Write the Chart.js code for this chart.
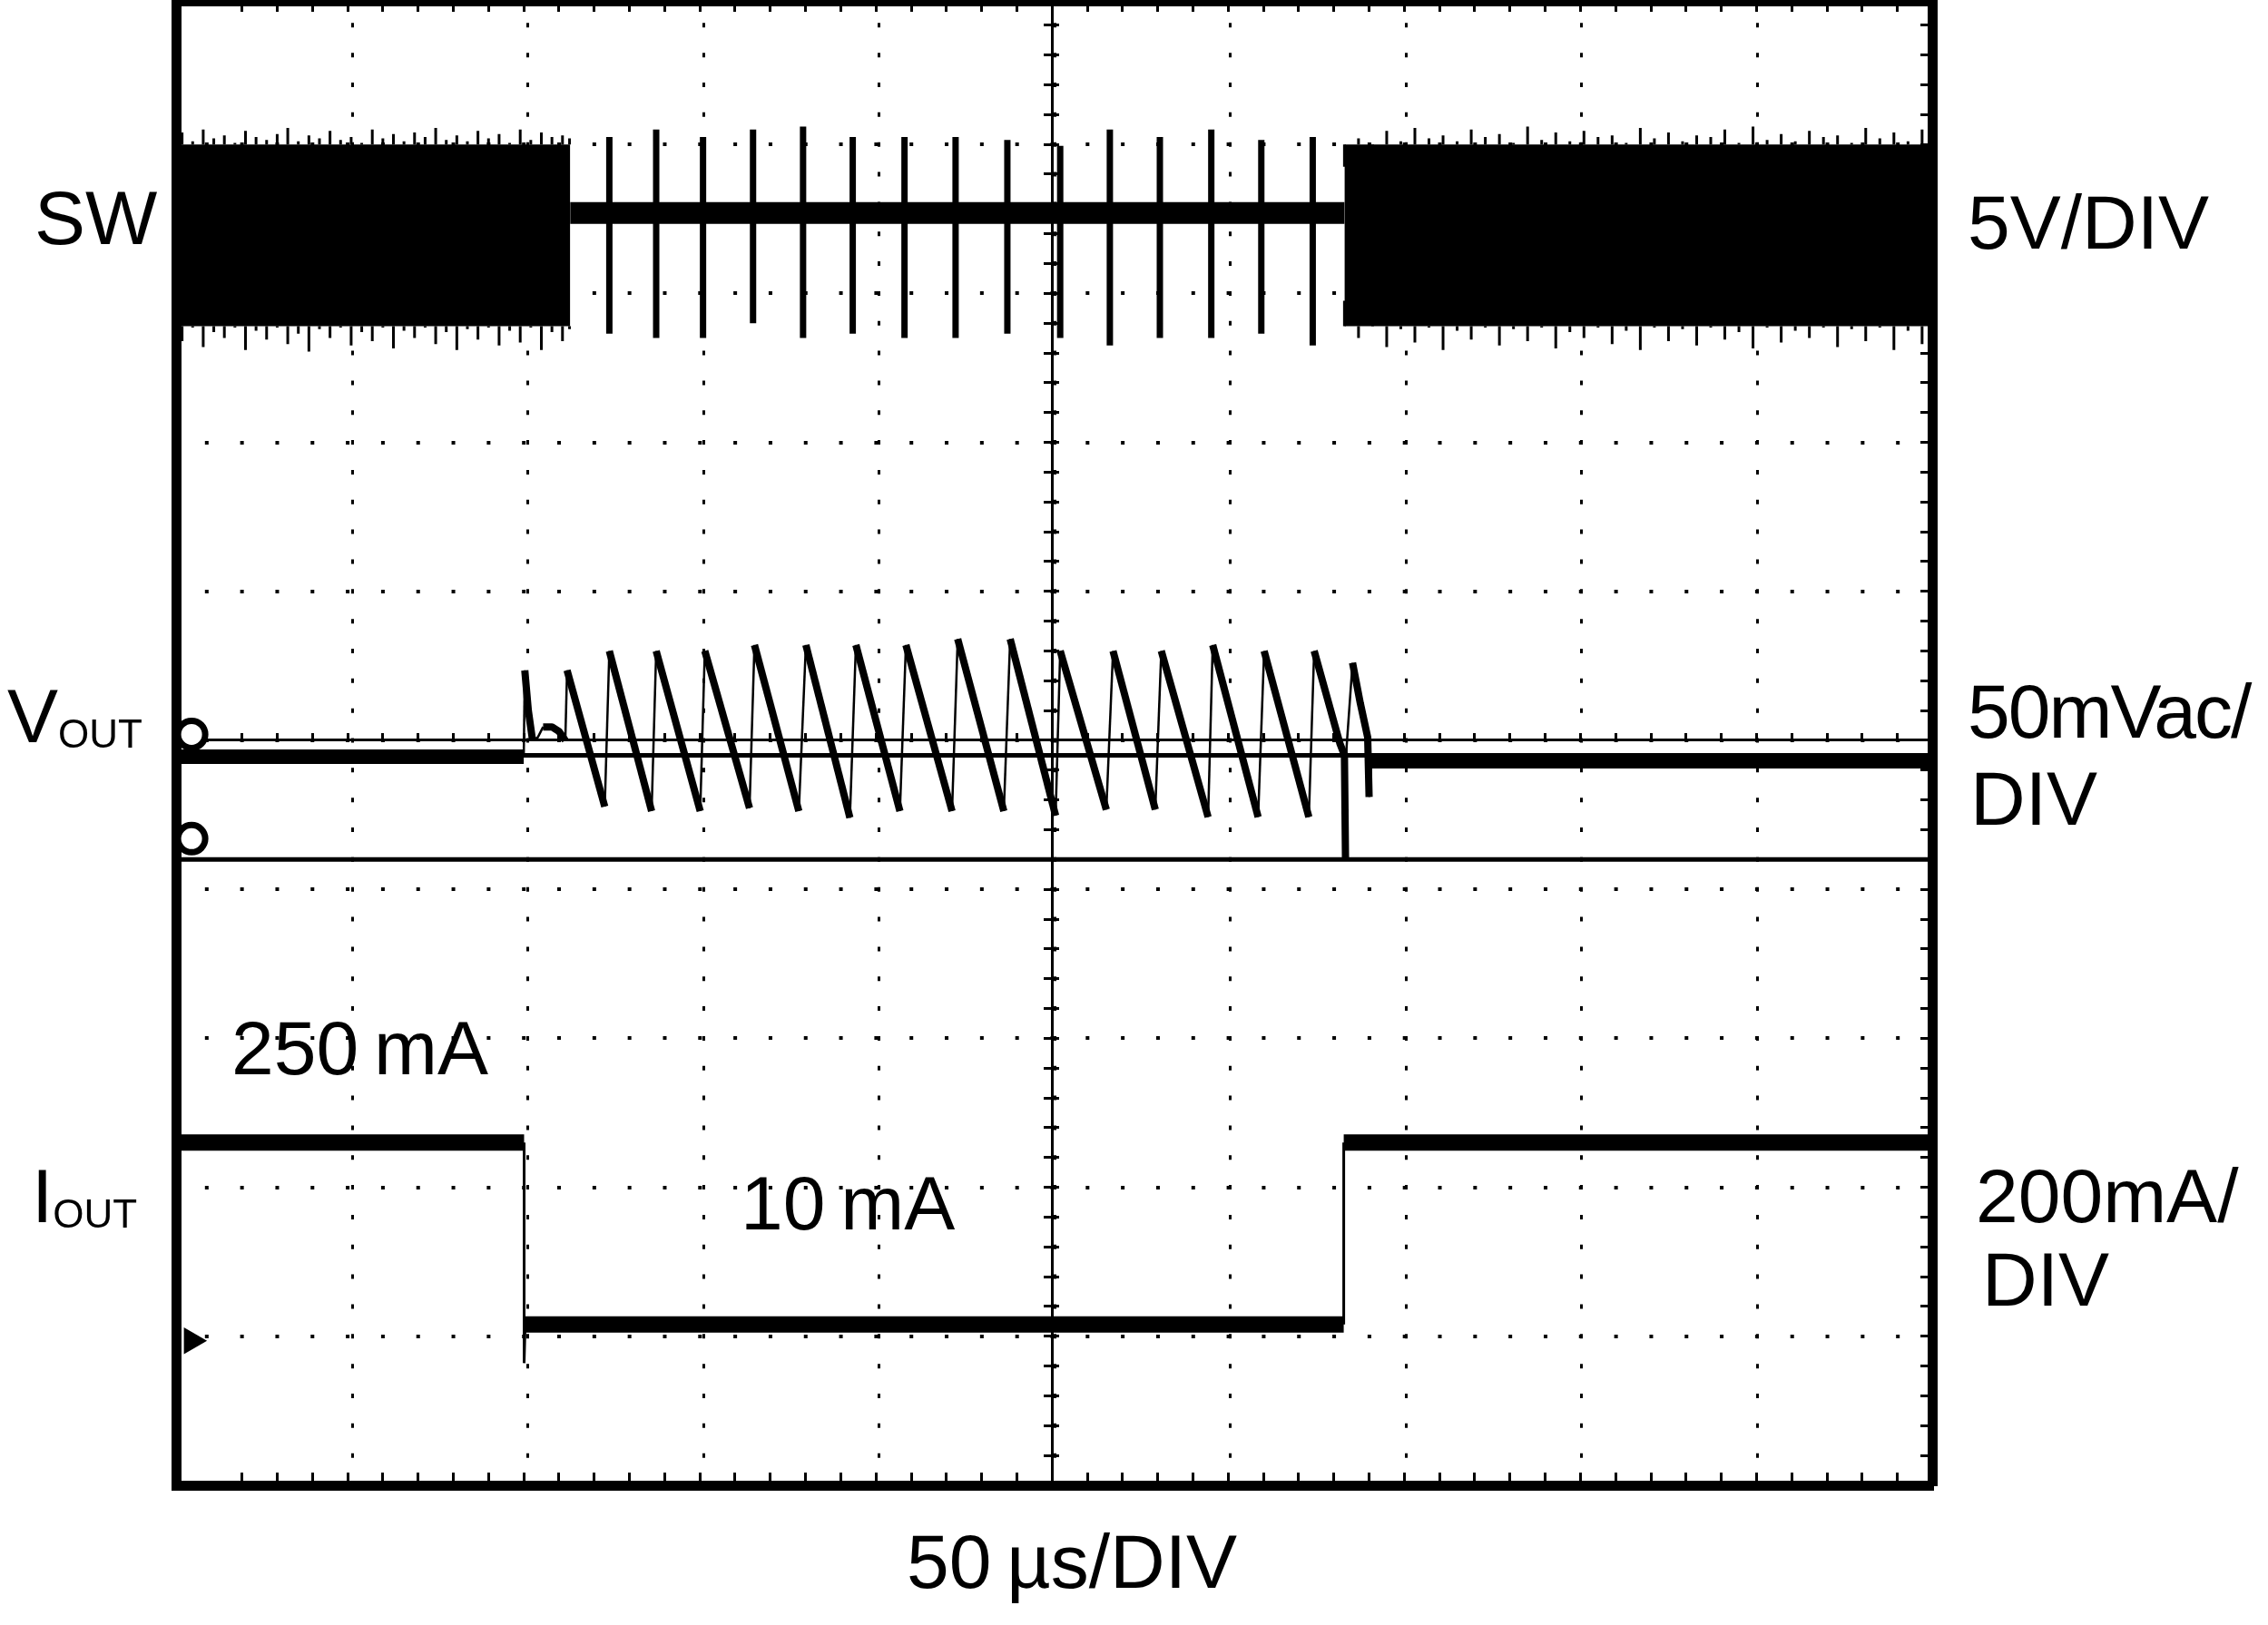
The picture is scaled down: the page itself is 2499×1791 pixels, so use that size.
<!DOCTYPE html>
<html>
<head>
<meta charset="utf-8">
<script src="https://cdn.jsdelivr.net/npm/chart.js@4.4.1/dist/chart.umd.min.js"></script>
<style>
  html, body { margin: 0; padding: 0; background: #fff; }
  #wrap { position: relative; width: 2499px; height: 1791px; overflow: hidden; }
  #scope { position: absolute; left: 0; top: 0; }
  .lbl { position: absolute; font-family: "Liberation Sans", Arial, sans-serif; font-size: 84px; line-height: 1; color: #000; white-space: nowrap; }
  .sub { font-size: 44px; position: relative; top: 6px; }
</style>
</head>
<body>
<div id="wrap">
  <canvas id="scope" width="2499" height="1791"></canvas>
  <div class="lbl" style="left:38px; top:198px">SW</div>
  <div class="lbl" style="left:2168px; top:203px">5V/DIV</div>
  <div class="lbl" style="left:8px; top:747px">V<span class="sub">OUT</span></div>
  <div class="lbl" style="left:2168px; top:742px; letter-spacing:-2px">50mVac/</div>
  <div class="lbl" style="left:2171px; top:838px">DIV</div>
  <div class="lbl" style="left:255px; top:1113px">250&#8201;mA</div>
  <div class="lbl" style="left:35px; top:1276px">I<span class="sub">OUT</span></div>
  <div class="lbl" style="left:816px; top:1284px">10&#8201;mA</div>
  <div class="lbl" style="left:2177px; top:1276px">200mA/</div>
  <div class="lbl" style="left:2184px; top:1368px">DIV</div>
  <div class="lbl" style="left:999px; top:1679px">50&#8201;µs/DIV</div>
</div>
<script>
// time base 50 us/DIV (0..500 us), vertical in DIV, 0 = screen centre

// SW, 5 V/DIV
var swLevel = 3.54;
var swBlockTop = 4.0;
var swBlockBottom = 2.78;
var swBurstStart = [0, 333];
var swBurstEnd = [113.2, 500];
var swBurst1Time = [0, 3, 6, 9, 12, 15, 18, 21, 24, 27, 30, 33, 36, 39, 42, 45, 48, 51, 54, 57, 60, 63, 66, 69, 72, 75, 78, 81, 84, 87, 90, 93, 96, 99, 102, 105, 108, 111, 113];
var swBurst1Top = [4.03, 4.08, 4.02, 4.10, 4.04, 4.06, 4.01, 4.09, 4.05, 4.03, 4.07, 4.11, 4.02, 4.06, 4.04, 4.09, 4.03, 4.05, 4.01, 4.10, 4.04, 4.07, 4.02, 4.08, 4.05, 4.11, 4.03, 4.06, 4.02, 4.09, 4.04, 4.07, 4.01, 4.10, 4.03, 4.08, 4.05, 4.06, 4.04];
var swBurst1Bottom = [2.76, 2.68, 2.77, 2.64, 2.74, 2.70, 2.77, 2.62, 2.75, 2.69, 2.77, 2.66, 2.73, 2.61, 2.76, 2.70, 2.77, 2.65, 2.74, 2.68, 2.77, 2.63, 2.75, 2.70, 2.77, 2.66, 2.74, 2.62, 2.76, 2.69, 2.77, 2.65, 2.75, 2.67, 2.77, 2.62, 2.74, 2.68, 2.76];
var swBurst2Time = [333, 337, 341, 345, 349, 353, 357, 361, 365, 369, 373, 377, 381, 385, 389, 393, 397, 401, 405, 409, 413, 417, 421, 425, 429, 433, 437, 441, 445, 449, 453, 457, 461, 465, 469, 473, 477, 481, 485, 489, 493, 497, 500];
var swBurst2Top = [3.85, 4.04, 3.95, 4.09, 4.02, 4.11, 4.04, 4.06, 4.02, 4.10, 4.05, 4.07, 4.01, 4.12, 4.03, 4.08, 4.02, 4.09, 4.05, 4.06, 4.01, 4.11, 4.04, 4.08, 4.02, 4.06, 4.05, 4.10, 4.01, 4.12, 4.03, 4.07, 4.02, 4.09, 4.05, 4.06, 4.01, 4.11, 4.04, 4.08, 4.02, 4.10, 4.06];
var swBurst2Bottom = [2.95, 2.70, 2.86, 2.64, 2.76, 2.67, 2.77, 2.62, 2.75, 2.69, 2.77, 2.65, 2.76, 2.68, 2.77, 2.63, 2.74, 2.70, 2.77, 2.66, 2.75, 2.62, 2.77, 2.68, 2.76, 2.65, 2.77, 2.69, 2.74, 2.63, 2.77, 2.67, 2.75, 2.70, 2.77, 2.64, 2.76, 2.68, 2.77, 2.62, 2.75, 2.66, 2.68];
var swPulseTime = [124.3, 137.6, 150.9, 165.1, 179.3, 193.4, 208.1, 222.6, 237.3, 252.3, 266.4, 280.6, 295.2, 309.4, 324.0];
var swPulseTop = [4.05, 4.10, 4.05, 4.10, 4.12, 4.05, 4.05, 4.05, 4.03, 3.99, 4.10, 4.05, 4.10, 4.03, 4.05];
var swPulseBottom = [2.73, 2.70, 2.70, 2.80, 2.70, 2.73, 2.70, 2.70, 2.73, 2.70, 2.65, 2.70, 2.70, 2.73, 2.65];

// VOUT, 50 mVac/DIV
var voutTime = [0, 100.0, 100.3, 101.3, 102.5, 104.0, 105.5, 108.0, 110.0, 111.8, 112.3,
    123.0, 124.3, 136.3, 137.6, 150.1, 151.4, 164.1, 165.5, 178.1, 180.1, 192.6, 194.3, 206.8, 208.5,
    221.6, 223.2, 236.3, 238.1, 251.0, 252.3, 265.4, 267.3, 279.3, 281.0, 294.3, 295.6, 308.5, 310.2,
    322.9, 324.4, 331.7, 333.0, 333.3, 333.6, 335.3, 337.5, 339.6, 340.0, 340.6, 500];
var voutValue = [-0.11, -0.11, 0.47, 0.20, 0.00, 0.02, 0.09, 0.09, 0.06, 0.00, 0.47,
    -0.445, 0.60, -0.475, 0.60, -0.475, 0.60, -0.455, 0.64, -0.475, 0.64, -0.52, 0.64, -0.475, 0.64,
    -0.475, 0.68, -0.475, 0.68, -0.505, 0.60, -0.465, 0.60, -0.465, 0.60, -0.515, 0.64, -0.515, 0.60,
    -0.515, 0.60, -0.02, -0.10, -0.79, -0.05, 0.52, 0.25, 0.02, -0.38, -0.14, -0.14];
var voutLines = [-0.10, -0.80];
var voutMarkers = [0.04, -0.66];

// IOUT, 200 mA/DIV (250 mA -> 10 mA -> 250 mA)
var ioutTime = [0, 100.1, 100.1, 100.4, 332.8, 332.8, 500];
var ioutValue = [-2.70, -2.70, -4.18, -3.92, -3.92, -2.70, -2.70];
var ioutMarker = -4.03;

var xMin = 1.42, xMax = 500, yMin = -5, yMax = 4.963;

function pts(t, v) {
    var out = [];
    for (var i = 0; i < t.length; i++) {
        out.push({ x: t[i], y: v[i] });
    }
    return out;
}
// vertical strokes from a base level (number) or from bot[i] (array) up/down to top[i]
function spikes(t, top, bot) {
    var out = [];
    for (var i = 0; i < t.length; i++) {
        out.push({ x: t[i], y: top[i] });
        out.push({ x: t[i], y: Array.isArray(bot) ? bot[i] : bot });
        out.push({ x: t[i], y: null });
    }
    return out;
}
function line(data, width, extra) {
    var ds = { data: data, borderColor: '#000', borderWidth: width, pointRadius: 0, fill: false, tension: 0 };
    for (var k in extra) ds[k] = extra[k];
    return ds;
}

var datasets = [];
// switching bursts: solid block + noise whiskers on its edges
for (var b = 0; b < swBurstStart.length; b++) {
    datasets.push(line([{ x: swBurstStart[b], y: swBlockTop }, { x: swBurstEnd[b], y: swBlockTop }], 0,
        { fill: { value: swBlockBottom }, backgroundColor: '#000' }));
}
datasets.push(line(spikes(swBurst1Time, swBurst1Top, swBlockTop), 3, {}));
datasets.push(line(spikes(swBurst1Time, swBurst1Bottom, swBlockBottom), 3, {}));
datasets.push(line(spikes(swBurst2Time, swBurst2Top, swBlockTop), 3, {}));
datasets.push(line(spikes(swBurst2Time, swBurst2Bottom, swBlockBottom), 3, {}));
datasets.push(line([{ x: swBurstEnd[0], y: swLevel }, { x: swBurstStart[1], y: swLevel }], 24, {}));
datasets.push(line(spikes(swPulseTime, swPulseTop, swPulseBottom), 7, {}));

// VOUT
datasets.push(line(pts(voutTime, voutValue), 8, {
    borderJoinStyle: 'round',
    segment: {
        borderWidth: function (ctx) {
            var dx = ctx.p1.parsed.x - ctx.p0.parsed.x;
            if (dx > 20) return 16;
            if (ctx.p1.parsed.y > ctx.p0.parsed.y) return 2.5;
            return 8;
        }
    }
}));
voutLines.forEach(function (v) {
    datasets.push(line([{ x: 0, y: v }, { x: 500, y: v }], 5, {}));
});
datasets.push(line(pts([5.7, 5.7], voutMarkers), 0, {
    showLine: false, pointRadius: 15, pointStyle: 'circle', pointBackgroundColor: '#fff', pointBorderColor: '#000', pointBorderWidth: 7
}));

// IOUT
datasets.push(line(pts(ioutTime, ioutValue), 18, {
    segment: {
        borderWidth: function (ctx) {
            return Math.abs(ctx.p1.parsed.x - ctx.p0.parsed.x) < 1 ? 3 : 18;
        }
    }
}));
datasets.push(line([{ x: 5.7, y: ioutMarker }], 0, {
    showLine: false, pointRadius: 17, pointStyle: 'triangle', rotation: 90, pointBackgroundColor: '#000', pointBorderColor: '#000'
}));

function edgeAxis(axis, pos, min, max, step, len, border) {
    return {
        type: 'linear', axis: axis, position: pos, min: min, max: max,
        ticks: { display: false, stepSize: step },
        grid: { display: true, drawOnChartArea: false, drawTicks: true, tickLength: len, tickWidth: 3, tickColor: '#000', lineWidth: 3 },
        border: { display: !!border, width: border || 0, color: '#000' }
    };
}

new Chart(document.getElementById('scope'), {
    type: 'line',
    data: { datasets: datasets },
    options: {
        responsive: false,
        maintainAspectRatio: false,
        animation: false,
        devicePixelRatio: 1,
        layout: { autoPadding: false, padding: { left: 194.5, right: 369.5, top: 1, bottom: 154 } },
        plugins: { legend: { display: false }, tooltip: { enabled: false } },
        scales: {
            x: {
                type: 'linear', position: 'bottom', min: xMin, max: xMax, z: 1,
                ticks: { display: false, stepSize: 50 },
                grid: { color: '#000', lineWidth: 3, drawTicks: false },
                border: { display: true, width: 11, color: '#000', dash: [5, 27.84], dashOffset: 8.5 }
            },
            y: {
                type: 'linear', position: 'left', min: yMin, max: yMax, z: 1,
                ticks: { display: false, stepSize: 1 },
                grid: { color: '#000', lineWidth: 4, drawTicks: false },
                border: { display: true, width: 11, color: '#000', dash: [4, 34.82], dashOffset: 13 }
            },
            xTop: {
                type: 'linear', axis: 'x', position: 'top', min: xMin, max: xMax, z: 1,
                ticks: { display: false }, grid: { display: false, drawTicks: false },
                border: { display: true, width: 12, color: '#000' }
            },
            yRight: {
                type: 'linear', axis: 'y', position: 'right', min: yMin, max: yMax, z: 1,
                ticks: { display: false }, grid: { display: false, drawTicks: false },
                border: { display: true, width: 11, color: '#000' }
            },
            // centre axes with minor ticks
            xMid: edgeAxis('x', { y: 0 }, xMin, xMax, 10, -9, 3),
            yMid: edgeAxis('y', { x: 250 }, yMin, yMax, 0.2, 8, 3),
            yMid2: edgeAxis('y', { x: 250 }, yMin, yMax, 0.2, -8, 0),
            // minor ticks on the frame
            xEdgeB: edgeAxis('x', { y: yMin }, xMin, xMax, 10, -14, 0),
            xEdgeT: edgeAxis('x', { y: yMax }, xMin, xMax, 10, 12, 0),
            yEdgeR: edgeAxis('y', { x: xMax }, yMin, yMax, 0.2, 14, 0)
        }
    }
});
</script>
</body>
</html>
